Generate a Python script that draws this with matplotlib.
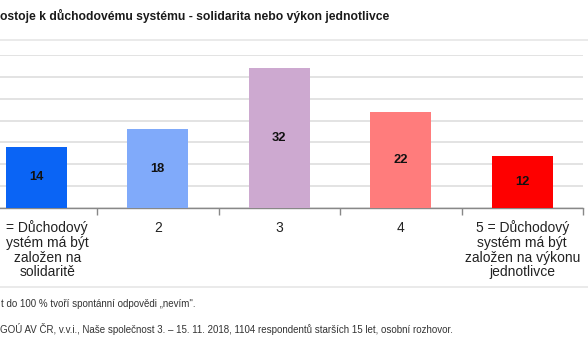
import matplotlib
matplotlib.use("Agg")
import matplotlib.pyplot as plt
from matplotlib.lines import Line2D
from matplotlib.transforms import ScaledTranslation

plt.rcParams['font.family'] = ['Liberation Sans', 'DejaVu Sans']

# data (chart is cropped on the left in the reference)
categories = ["= Důchodový\nystém má být\nzaložen na\nsolidaritě",
              "2", "3", "4",
              "5 = Důchodový\nsystém má být\nzaložen na výkonu\njednotlivce"]
values = [14, 18, 32, 22, 12]
colors = ["#0a64f5", "#80aafa", "#cda9d0", "#ff7c7c", "#fe0000"]

title = "ostoje k důchodovému systému - solidarita nebo výkon jednotlivce"
note1 = "t do 100 % tvoří spontánní odpovědi „nevím\"."
note2 = "GOÚ AV ČR, v.v.i., Naše společnost 3. – 15. 11. 2018, 1104 respondentů starších 15 let, osobní rozhovor."

W, H = 588, 363
fig = plt.figure(figsize=(W / 100, H / 100), dpi=100)

# axes deliberately reaches past the left edge (cropped original)
left_px, right_px = -24.5, 583
bottom_px, top_px = 208, 55
ax = fig.add_axes([left_px / W, 1 - bottom_px / H,
                   (right_px - left_px) / W, (bottom_px - top_px) / H])

x = list(range(len(values)))
bars = ax.bar(x, values, width=0.5, color=colors, zorder=3)
for xi, v in zip(x, values):
    ax.text(xi, v / 2, str(v), ha='center', va='center',
            fontsize=9.3, fontweight='bold', color='#111111', zorder=4)

ax.set_xlim(-0.5, 4.5)
ax.set_ylim(0, 35)
ax.set_yticks(range(0, 36, 5))
ax.yaxis.grid(True, color='#e3e3e3', linewidth=1.4, zorder=0)
ax.tick_params(axis='y', left=False, labelleft=False)

ax.set_xticks(x)
ax.set_xticklabels(categories, fontsize=10, color='#222222', linespacing=1.05)
ax.set_xticks([i + 0.5 for i in range(-1, 5)], minor=True)
ax.tick_params(axis='x', which='major', length=0, pad=9)
ax.tick_params(axis='x', which='minor', length=5, color='#888888', width=1)

# nudge the cropped first label so it stays inside the picture
lab0 = ax.get_xticklabels()[0]
lab0.set_transform(lab0.get_transform() + ScaledTranslation(0.11, 0, fig.dpi_scale_trans))

for s in ['top', 'right', 'left']:
    ax.spines[s].set_visible(False)
ax.spines['bottom'].set_color('#888888')
ax.spines['bottom'].set_linewidth(1)

# light frame around the chart area
fig.add_artist(Line2D([0, 1], [1 - 40 / H, 1 - 40 / H], color='#e6e6e6', lw=1.2))
fig.add_artist(Line2D([0, 1], [1 - 287 / H, 1 - 287 / H], color='#e6e6e6', lw=1.2))

fig.text(0.0, 1 - 16 / H, title, fontsize=8.7, fontweight='bold',
         color='#1a1a1a', ha='left', va='center')
fig.text(0.002, 1 - 304 / H, note1, fontsize=7.0, color='#333333',
         ha='left', va='center')
fig.text(0.0, 1 - 329 / H, note2, fontsize=7.0, color='#333333',
         ha='left', va='center')

fig.savefig("out.png", dpi=100)
